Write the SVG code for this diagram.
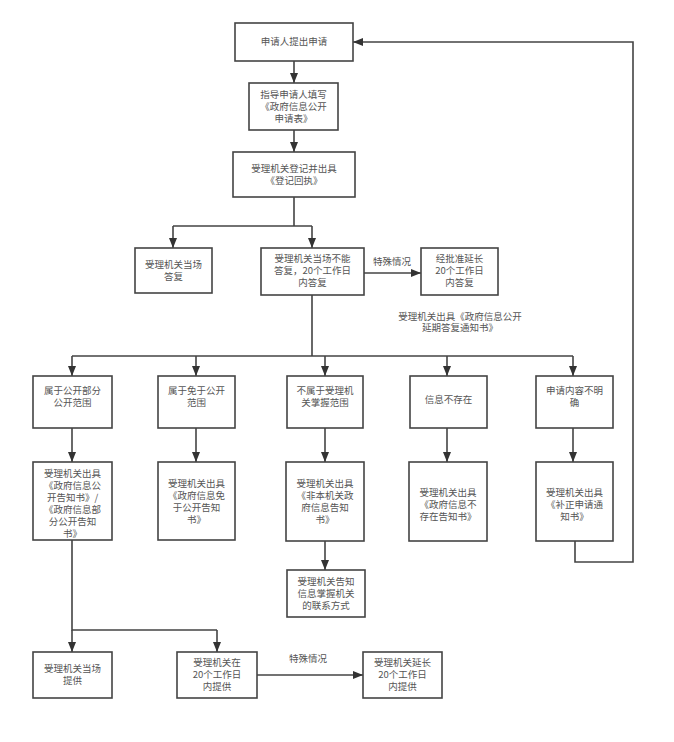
<svg xmlns="http://www.w3.org/2000/svg" width="674" height="742" viewBox="0 0 674 742">
<defs>
<marker id="ah" markerUnits="userSpaceOnUse" markerWidth="10" markerHeight="10" viewBox="0 0 10 10" refX="10" refY="5" orient="auto">
<path d="M0,1 L10,5 L0,9 Z" fill="#333"/>
</marker>
<style>
.b{fill:#fff;stroke:#444;stroke-width:1.6}
.t{font-family:"Noto Sans CJK SC","Noto Sans",sans-serif;font-size:9.5px;fill:#555;text-anchor:middle}
.c{fill:none;stroke:#444;stroke-width:1.6}
.a{marker-end:url(#ah)}
</style>
</defs>
<rect width="674" height="742" fill="#fff"/>
<g id="connectors">
<path class="c a" d="M294,61 V83"/>
<path class="c a" d="M294,130 V152"/>
<path class="c" d="M294,197 V226 M173,226 H312"/>
<path class="c a" d="M173,226 V248"/>
<path class="c a" d="M312,226 V248"/>
<path class="c a" d="M364,273 H421"/>
<path class="c" d="M312,295 V356 M72,356 H573"/>
<path class="c a" d="M72,356 V376"/>
<path class="c a" d="M196,356 V376"/>
<path class="c a" d="M325,356 V376"/>
<path class="c a" d="M447,356 V376"/>
<path class="c a" d="M573,356 V376"/>
<path class="c a" d="M72,428 V462"/>
<path class="c a" d="M196,428 V462"/>
<path class="c a" d="M325,428 V462"/>
<path class="c a" d="M447,428 V462"/>
<path class="c a" d="M573,428 V462"/>
<path class="c a" d="M325,541 V570"/>
<path class="c a" d="M575,541 V562 H633 V42 H353"/>
<path class="c" d="M72,540 V630 H217"/>
<path class="c a" d="M72,630 V652"/>
<path class="c a" d="M217,630 V652"/>
<path class="c a" d="M257,675 H363"/>
<text class="t" x="392" y="265">特殊情况</text>
<text class="t" x="460" y="320">受理机关出具《政府信息公开</text>
<text class="t" x="460" y="331">延期答复通知书》</text>
<text class="t" x="308" y="662">特殊情况</text>
</g>
<g id="n1"><rect class="b" x="235" y="23" width="118" height="38"/><text class="t" x="294" y="45">申请人提出申请</text></g>
<g id="n2"><rect class="b" x="249" y="83" width="89" height="47"/><text class="t" x="293.5" y="98">指导申请人填写</text><text class="t" x="293.5" y="110">《政府信息公开</text><text class="t" x="293.5" y="122">申请表》</text></g>
<g id="n3"><rect class="b" x="233" y="152" width="122" height="45"/><text class="t" x="294" y="172">受理机关登记并出具</text><text class="t" x="294" y="184">《登记回执》</text></g>
<g id="n4"><rect class="b" x="135" y="248" width="77" height="45"/><text class="t" x="173.5" y="268">受理机关当场</text><text class="t" x="173.5" y="280">答复</text></g>
<g id="n5"><rect class="b" x="261" y="248" width="103" height="47"/><text class="t" x="312.5" y="262">受理机关当场不能</text><text class="t" x="312.5" y="274">答复，20个工作日</text><text class="t" x="312.5" y="286">内答复</text></g>
<g id="n6"><rect class="b" x="421" y="248" width="77" height="47"/><text class="t" x="459.5" y="262">经批准延长</text><text class="t" x="459.5" y="274">20个工作日</text><text class="t" x="459.5" y="286">内答复</text></g>
<g id="n7"><rect class="b" x="33" y="376" width="79" height="52"/><text class="t" x="72.5" y="394">属于公开部分</text><text class="t" x="72.5" y="406">公开范围</text></g>
<g id="n8"><rect class="b" x="158" y="376" width="77" height="52"/><text class="t" x="196.5" y="394">属于免于公开</text><text class="t" x="196.5" y="406">范围</text></g>
<g id="n9"><rect class="b" x="287" y="376" width="76" height="52"/><text class="t" x="325" y="394">不属于受理机</text><text class="t" x="325" y="406">关掌握范围</text></g>
<g id="n10"><rect class="b" x="410" y="376" width="77" height="52"/><text class="t" x="448.5" y="403">信息不存在</text></g>
<g id="n11"><rect class="b" x="536" y="376" width="77" height="52"/><text class="t" x="574.5" y="394">申请内容不明</text><text class="t" x="574.5" y="406">确</text></g>
<g id="n12"><rect class="b" x="33" y="462" width="79" height="78"/><text class="t" x="72.5" y="477">受理机关出具</text><text class="t" x="72.5" y="489">《政府信息公</text><text class="t" x="72.5" y="501">开告知书》/</text><text class="t" x="72.5" y="513">《政府信息部</text><text class="t" x="72.5" y="525">分公开告知</text><text class="t" x="72.5" y="537">书》</text></g>
<g id="n13"><rect class="b" x="158" y="462" width="77" height="78"/><text class="t" x="196.5" y="487">受理机关出具</text><text class="t" x="196.5" y="499">《政府信息免</text><text class="t" x="196.5" y="511">于公开告知</text><text class="t" x="196.5" y="523">书》</text></g>
<g id="n14"><rect class="b" x="286" y="462" width="78" height="79"/><text class="t" x="325" y="487">受理机关出具</text><text class="t" x="325" y="499">《非本机关政</text><text class="t" x="325" y="511">府信息告知</text><text class="t" x="325" y="523">书》</text></g>
<g id="n15"><rect class="b" x="409" y="462" width="78" height="79"/><text class="t" x="448" y="496">受理机关出具</text><text class="t" x="448" y="508">《政府信息不</text><text class="t" x="448" y="520">存在告知书》</text></g>
<g id="n16"><rect class="b" x="536" y="462" width="77" height="79"/><text class="t" x="574.5" y="496">受理机关出具</text><text class="t" x="574.5" y="508">《补正申请通</text><text class="t" x="574.5" y="520">知书》</text></g>
<g id="n17"><rect class="b" x="287" y="570" width="78" height="47"/><text class="t" x="326" y="585">受理机关告知</text><text class="t" x="326" y="597">信息掌握机关</text><text class="t" x="326" y="609">的联系方式</text></g>
<g id="n18"><rect class="b" x="33" y="652" width="79" height="46"/><text class="t" x="72.5" y="672">受理机关当场</text><text class="t" x="72.5" y="684">提供</text></g>
<g id="n19"><rect class="b" x="177" y="652" width="80" height="46"/><text class="t" x="217" y="666">受理机关在</text><text class="t" x="217" y="678">20个工作日</text><text class="t" x="217" y="690">内提供</text></g>
<g id="n20"><rect class="b" x="363" y="652" width="79" height="46"/><text class="t" x="402.5" y="666">受理机关延长</text><text class="t" x="402.5" y="678">20个工作日</text><text class="t" x="402.5" y="690">内提供</text></g>
</svg>
